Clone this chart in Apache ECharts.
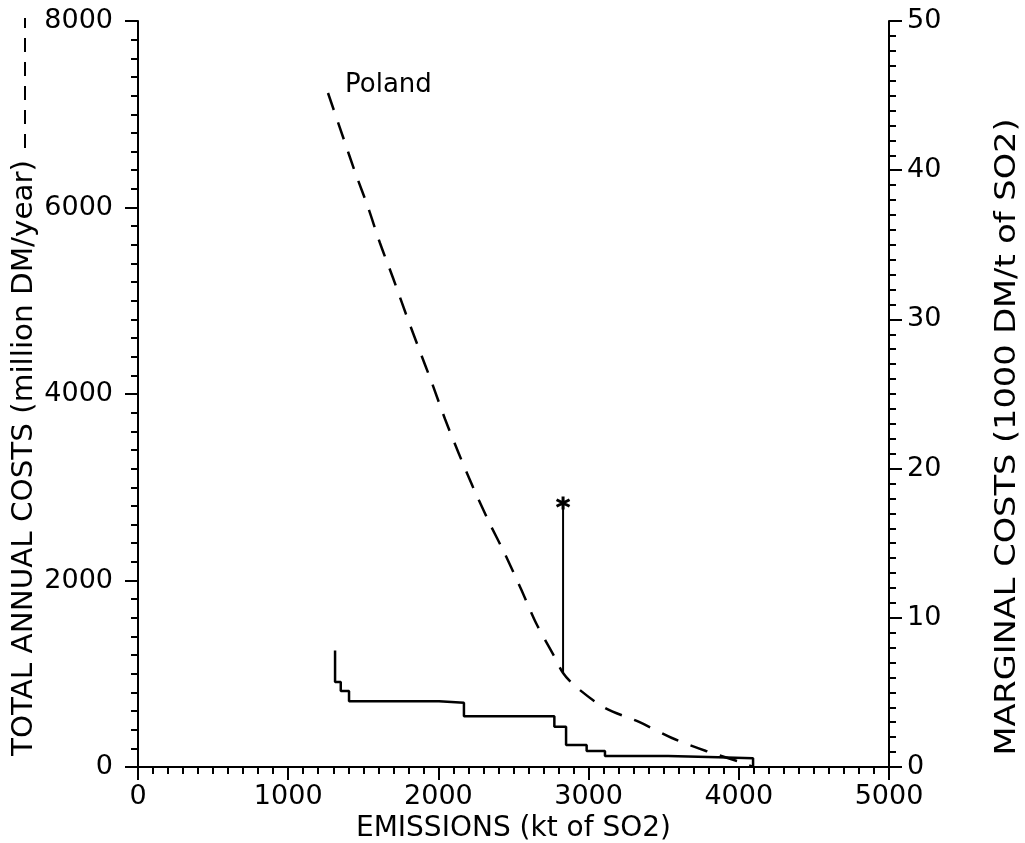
<!DOCTYPE html>
<html>
<head>
<meta charset="utf-8">
<script src="https://cdn.jsdelivr.net/npm/echarts@6/dist/echarts.min.js"></script>
<style>
  html, body { margin: 0; padding: 0; background: #fff; }
  #chart { width: 1025px; height: 843px; }
</style>
</head>
<body>
<div id="chart"></div>
<script>
// Total annual abatement costs for Poland (million DM/year) against remaining SO2 emissions (kt)
const totalEmissions = [1265, 1365, 1445, 1531, 1611, 1698, 1784, 1871, 1957, 2044, 2137, 2230, 2337,
                        2443, 2550, 2650, 2770, 2830, 2909, 3109, 3336, 3555, 3782, 4028, 4095];
const totalCosts = [7228, 6756, 6381, 6005, 5619, 5244, 4858, 4483, 4118, 3732, 3357, 3003, 2627,
                    2284, 1909, 1544, 1190, 1008, 869, 633, 483, 311, 172, 43, 0];

// Marginal cost curve: emission level where each cost block starts, and its cost (1000 DM/t)
const marginalEmissions = [1312, 1312, 1350, 1405, 2004, 2170, 2772, 2850, 2987, 3109, 3529, 3862, 4095];
const marginalCosts = [7.8, 5.7, 5.1, 4.4, 4.3, 3.4, 2.7, 1.47, 1.07, 0.74, 0.65, 0.58, 0];

// Marked emission target: drop line from the cost curve up to the asterisk
const targetEmissions = [2830, 2830];
const targetCosts = [1008, 2831];

const seriesLabel = 'Poland';
const xTitle = 'EMISSIONS (kt of SO2)';
const leftTitle = 'TOTAL ANNUAL COSTS (million DM/year)';
const rightTitle = 'MARGINAL COSTS (1000 DM/t of SO2)';

const FONT = 'DejaVu Sans';
const INK = '#000';
const W = 1025, H = 843;
const GRID = { left: 138, right: 136, top: 21, bottom: 76 };

const zip = (xs, ys) => xs.map((x, i) => [x, ys[i]]);
const plain = v => String(v);

const chart = echarts.init(document.getElementById('chart'), null, { renderer: 'canvas' });

const axisCommon = {
  axisLine: { show: true, lineStyle: { color: INK, width: 2 } },
  axisTick: { show: true, length: 13, lineStyle: { color: INK, width: 2 } },
  minorTick: { show: true, splitNumber: 10, length: 7, lineStyle: { color: INK, width: 2 } },
  splitLine: { show: false },
  minorSplitLine: { show: false },
  axisLabel: { color: INK, fontFamily: FONT, fontSize: 27, formatter: plain },
  nameTextStyle: { color: INK, fontFamily: FONT, fontSize: 28 }
};

// Rotated axis titles, stretched along the reading direction
const titleFont = '28px "' + FONT + '"';

chart.setOption({
  animation: false,
  backgroundColor: '#fff',
  grid: Object.assign({ containLabel: false, outerBoundsMode: 'none' }, GRID),
  xAxis: Object.assign({}, axisCommon, {
    type: 'value', min: 0, max: 5000, interval: 1000,
    name: xTitle, nameLocation: 'middle', nameGap: 31,
    axisLabel: Object.assign({}, axisCommon.axisLabel, { margin: 16 })
  }),
  yAxis: [
    Object.assign({}, axisCommon, {
      type: 'value', min: 0, max: 8000, interval: 2000, position: 'left',
      axisLabel: Object.assign({}, axisCommon.axisLabel, { margin: 25 })
    }),
    Object.assign({}, axisCommon, {
      type: 'value', min: 0, max: 50, interval: 10, position: 'right',
      axisLabel: Object.assign({}, axisCommon.axisLabel, { margin: 18 })
    })
  ],
  graphic: [
    {
      type: 'text', x: 25, y: 458, rotation: Math.PI / 2, scaleX: 1.05,
      style: { text: leftTitle, font: titleFont, fill: INK, align: 'center', verticalAlign: 'middle' }
    },
    {
      // dashed key for the total cost curve, continuing the left title
      type: 'line',
      shape: { x1: 25, y1: 148, x2: 25, y2: 18 },
      style: { stroke: INK, lineWidth: 2, lineDash: [14, 10] }
    },
    {
      type: 'text', x: 1008, y: 437, rotation: Math.PI / 2, scaleX: 1.2,
      style: { text: rightTitle, font: titleFont, fill: INK, align: 'center', verticalAlign: 'middle' }
    }
  ],
  series: [
    {
      name: 'total',
      type: 'line',
      yAxisIndex: 0,
      data: zip(totalEmissions, totalCosts),
      smooth: 0.3,
      showSymbol: false,
      lineStyle: { color: INK, width: 2.5, type: [18, 13] },
      markPoint: {
        symbol: 'circle', symbolSize: 0, silent: true,
        data: [{ coord: [totalEmissions[0], totalCosts[0]] }],
        label: {
          show: true, position: 'right', formatter: seriesLabel,
          offset: [12, -8], color: INK, fontFamily: FONT, fontSize: 26
        }
      }
    },
    {
      name: 'marginal',
      type: 'line',
      yAxisIndex: 1,
      step: 'end',
      data: zip(marginalEmissions, marginalCosts),
      showSymbol: false,
      lineStyle: { color: INK, width: 2.5 }
    },
    {
      name: 'target',
      type: 'line',
      yAxisIndex: 0,
      data: zip(targetEmissions, targetCosts).map((p, i) =>
        i === targetEmissions.length - 1 ? { value: p } : { value: p, symbol: 'none' }),
      symbol: 'path://M5 0 L5 10 M0 2.5 L10 7.5 M0 7.5 L10 2.5',
      symbolSize: 13,
      showSymbol: true,
      showAllSymbol: true,
      itemStyle: { color: 'none', borderColor: INK, borderWidth: 3 },
      lineStyle: { color: INK, width: 2 }
    }
  ]
});
</script>
</body>
</html>
